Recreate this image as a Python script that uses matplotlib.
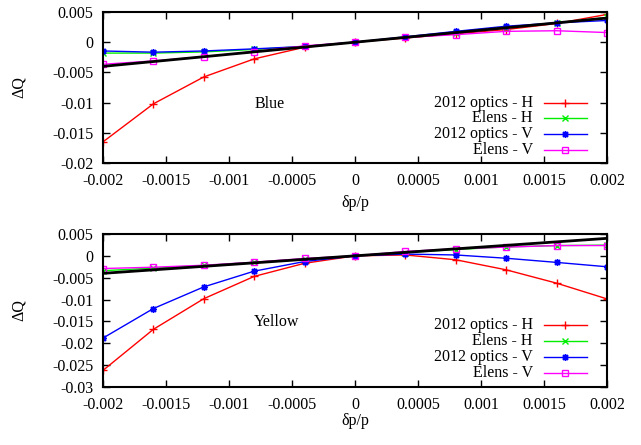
import matplotlib
matplotlib.use("Agg")
import matplotlib.pyplot as plt
from matplotlib.lines import Line2D

plt.rcParams['font.family'] = ['Liberation Serif', 'DejaVu Serif']
plt.rcParams['font.size'] = 11.5

# momentum offsets
dpp = [-0.002, -0.0016, -0.0012, -0.0008, -0.0004, 0.0,
       0.0004, 0.0008, 0.0012, 0.0016, 0.002]

# Blue ring tune shifts
blue_h_2012 = [-0.0165, -0.0102, -0.00575, -0.00276, -0.00083, 0.0,
               0.0007, 0.0014, 0.0021, 0.0031, 0.0046]
blue_h_elens = [-0.0018, -0.0018, -0.0016, -0.0012, -0.0007, 0.0,
                0.0008, 0.0016, 0.0024, 0.0032, 0.0041]
blue_v_2012 = [-0.00145, -0.00165, -0.00145, -0.0011, -0.0007, 0.0,
               0.0009, 0.0018, 0.00265, 0.0032, 0.0036]
blue_v_elens = [-0.00365, -0.0031, -0.0024, -0.00155, -0.0006, 0.0,
                0.0008, 0.00125, 0.0018, 0.0019, 0.0016]

# Yellow ring tune shifts
yel_h_2012 = [-0.0262, -0.0168, -0.0098, -0.0047, -0.0017, 0.0,
              0.0002, -0.0009, -0.0032, -0.00625, -0.00985]
yel_h_elens = [-0.0034, -0.0028, -0.0022, -0.0015, -0.0007, 0.0,
               0.00075, 0.00145, 0.00205, 0.00235, 0.00245]
yel_v_2012 = [-0.0188, -0.01205, -0.0071, -0.0035, -0.0013, 0.0,
              0.0004, 0.0002, -0.00055, -0.0015, -0.0025]
yel_v_elens = [-0.0029, -0.0026, -0.00215, -0.00145, -0.0006, 0.0,
               0.001, 0.0016, 0.002, 0.00235, 0.00235]

# linear chromaticity reference line
ref_x = [-0.002, 0.002]
ref_y = [-0.004, 0.004]

series_labels = ["2012 optics - H", "Elens - H", "2012 optics - V", "Elens - V"]
series_colors = ["#ff0000", "#00ee00", "#0000ff", "#ff00ff"]
series_markers = ["+", "x", (8, 2, 0), "s"]

x_ticks = [-0.002, -0.0015, -0.001, -0.0005, 0.0, 0.0005, 0.001, 0.0015, 0.002]
x_ticklabels = ["-0.002", "-0.0015", "-0.001", "-0.0005", "0",
                "0.0005", "0.001", "0.0015", "0.002"]
top_yticks = [0.005, 0.0, -0.005, -0.01, -0.015, -0.02]
top_yticklabels = ["0.005", "0", "-0.005", "-0.01", "-0.015", "-0.02"]
bot_yticks = [0.005, 0.0, -0.005, -0.01, -0.015, -0.02, -0.025, -0.03]
bot_yticklabels = ["0.005", "0", "-0.005", "-0.01", "-0.015", "-0.02",
                   "-0.025", "-0.03"]

fig = plt.figure(figsize=(6.41, 4.45), dpi=100)
ax1 = fig.add_axes([0.1607, 0.6337, 0.7863, 0.3393])
ax2 = fig.add_axes([0.1607, 0.1303, 0.7863, 0.3439])


def marker_style(mk):
    if mk == "s":
        return dict(marker=mk, ms=5, markerfacecolor='none', markeredgewidth=1.0)
    if mk == "+":
        return dict(marker=mk, ms=6, markeredgewidth=1.0)
    return dict(marker=mk, ms=5, markeredgewidth=1.0)


def draw(ax, data, yticks, yticklabels, ylim, ring_label, label_pos,
         xlabel_y, legend_rows):
    for ys, lab, col, mk in zip(data, series_labels, series_colors, series_markers):
        ax.plot(dpp, ys, color=col, lw=1.0, label=lab, **marker_style(mk))
    ax.plot(ref_x, ref_y, color='black', lw=2.0, zorder=5)
    ax.set_xlim(-0.002, 0.002)
    ax.set_ylim(*ylim)
    ax.set_xticks(x_ticks)
    ax.set_xticklabels(x_ticklabels)
    ax.set_yticks(yticks)
    ax.set_yticklabels(yticklabels)
    ax.tick_params(direction='in', top=True, right=True, length=5, width=1.0,
                   pad=7)
    for s in ax.spines.values():
        s.set_linewidth(1.5)
    ax.text(0.5, xlabel_y, "δp/p", transform=ax.transAxes,
            ha='center', va='center')
    ax.text(-0.167, 0.5, "ΔQ", transform=ax.transAxes, rotation=90,
            ha='center', va='center')
    ax.text(label_pos[0], label_pos[1], ring_label, ha='center', va='center')
    # key: right-aligned text followed by a sample line with marker
    for row_y, lab, col, mk in zip(legend_rows, series_labels,
                                   series_colors, series_markers):
        ax.text(0.853, row_y, lab, transform=ax.transAxes,
                ha='right', va='center')
        ax.add_line(Line2D([0.875, 0.960], [row_y, row_y],
                           transform=ax.transAxes, color=col, lw=1.0))
        ax.add_line(Line2D([0.9175], [row_y], transform=ax.transAxes,
                           color=col, linestyle='none', **marker_style(mk)))


draw(ax1, [blue_h_2012, blue_h_elens, blue_v_2012, blue_v_elens],
     top_yticks, top_yticklabels, (-0.02, 0.005), "Blue",
     (-0.00068, -0.0102), -0.265, [0.397, 0.298, 0.192, 0.086])
draw(ax2, [yel_h_2012, yel_h_elens, yel_v_2012, yel_v_elens],
     bot_yticks, bot_yticklabels, (-0.03, 0.005), "Yellow",
     (-0.00062, -0.0152), -0.222, [0.405, 0.301, 0.196, 0.092])

fig.savefig("out.png", dpi=100)
